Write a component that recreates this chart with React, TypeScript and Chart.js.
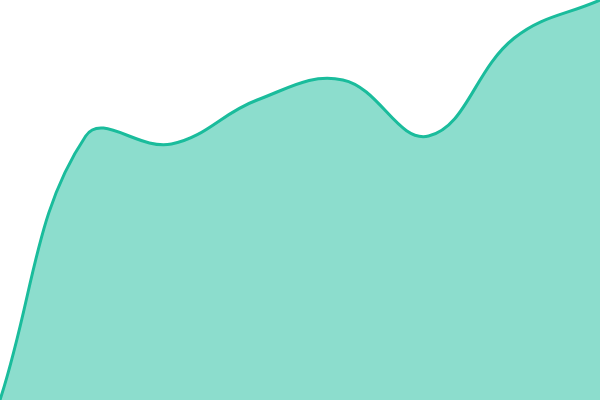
import React, { useEffect, useRef } from "react";
import { Chart, registerables } from "chart.js";

Chart.register(...registerables);

const labels = ["1", "2", "3", "4", "5", "6", "7", "8"];
const values = [0, 66, 64, 75, 80, 66, 90.5, 100];

export default function App() {
  const ref = useRef<HTMLCanvasElement | null>(null);
  useEffect(() => {
    document.body.style.margin = "0";
    const chart = new Chart(ref.current!, {
      type: "line",
      data: {
        labels,
        datasets: [
          {
            data: values,
            borderColor: "#1abc9c",
            backgroundColor: "rgba(26,188,156,0.5)",
            borderWidth: 3,
            fill: true,
            tension: 0.4,
            pointRadius: 0,
          },
        ],
      },
      options: {
        animation: false,
        responsive: false,
        layout: { padding: 0 },
        plugins: { legend: { display: false }, tooltip: { enabled: false } },
        scales: {
          x: { display: false },
          y: { display: false, min: 0, max: 100 },
        },
      },
    });
    return () => chart.destroy();
  }, []);
  return (
    <div style={{ position: "fixed", left: 0, top: 0, width: 600, height: 400 }}>
      <canvas ref={ref} width={600} height={400} style={{ width: 600, height: 400 }} />
    </div>
  );
}
